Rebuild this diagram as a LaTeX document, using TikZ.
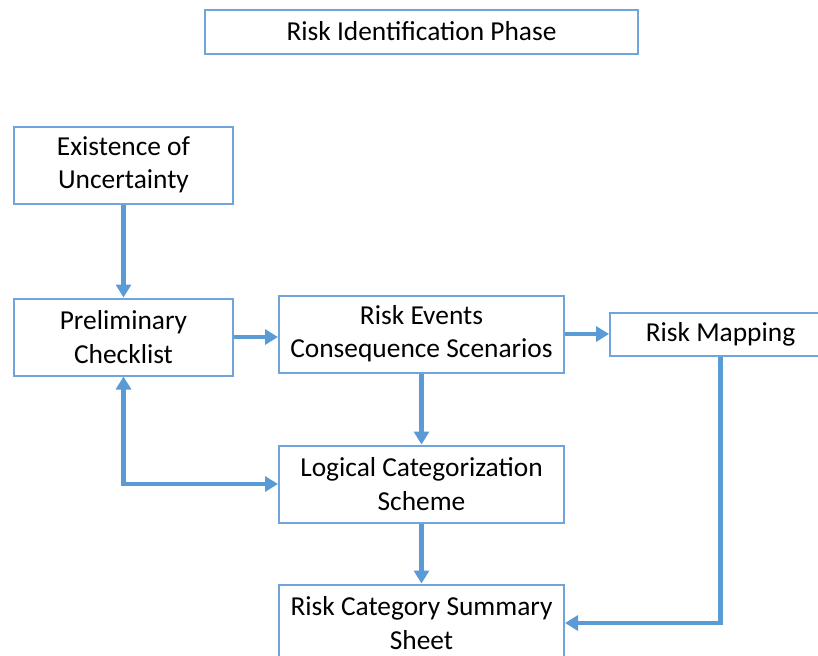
\documentclass[tikz,border=0pt]{standalone}
\usepackage{fontspec}
\setmainfont{Carlito}
\usepackage{tikz}
\usetikzlibrary{
	arrows.meta,
	positioning
}
\definecolor{boxblue}{HTML}{6FA5DB}
\definecolor{arrowblue}{HTML}{5B9BD5}

\begin{document}
\begin{tikzpicture}[
			x=0.5pt, y=-0.5pt,
			font=\fontsize{13.7pt}{16.6pt}\selectfont,
			caixa/.style={draw=boxblue, line width=1pt, minimum width=109.5pt, minimum height=38.5pt, align=center, fill=white, inner sep=2pt},
			largo/.style={caixa, minimum width=142.5pt},
			fl/.style={-{Triangle[length=6.5pt,width=7.5pt]}, line width=2.2pt, draw=arrowblue}
		]
		\useasboundingbox (0,0) rectangle (818,655);
		\clip (0,0) rectangle (818,655);

		\node[caixa] (prel) at (123.5,337) {Preliminary\\ Checklist};
		\node[caixa, above=46.5pt of prel] (exist) {Existence of\\ Uncertainty};
		\node[largo, right=22pt of prel, yshift=1.5pt] (events) {Risk Events\\ Consequence Scenarios};
		\node[caixa, minimum width=110.5pt, minimum height=21.5pt, right=22pt of events] (map) {Risk Mapping};
		\node[largo, below=35.5pt of events] (logic) {Logical Categorization\\ Scheme};
		\node[largo, below=30pt of logic] (sum) {Risk Category Summary\\ Sheet};
		\node[caixa, minimum width=216.5pt, minimum height=22pt, above=120pt of events] (phase) {Risk Identification Phase};

		\draw[fl] (exist) -- (prel);
		\draw[fl] (prel) -- (prel -| events.west);
		\draw[fl] (events) -- (map);
		\draw[fl] (events) -- (logic);
		\draw[fl] (logic) -- (sum);
		\draw[fl, {Triangle[length=6.5pt,width=7.5pt]}-{Triangle[length=6.5pt,width=7.5pt]}] (prel.south) |- (logic.west);
		\draw[fl] (map.south) |- (sum.east);
	\end{tikzpicture}
\end{document}
